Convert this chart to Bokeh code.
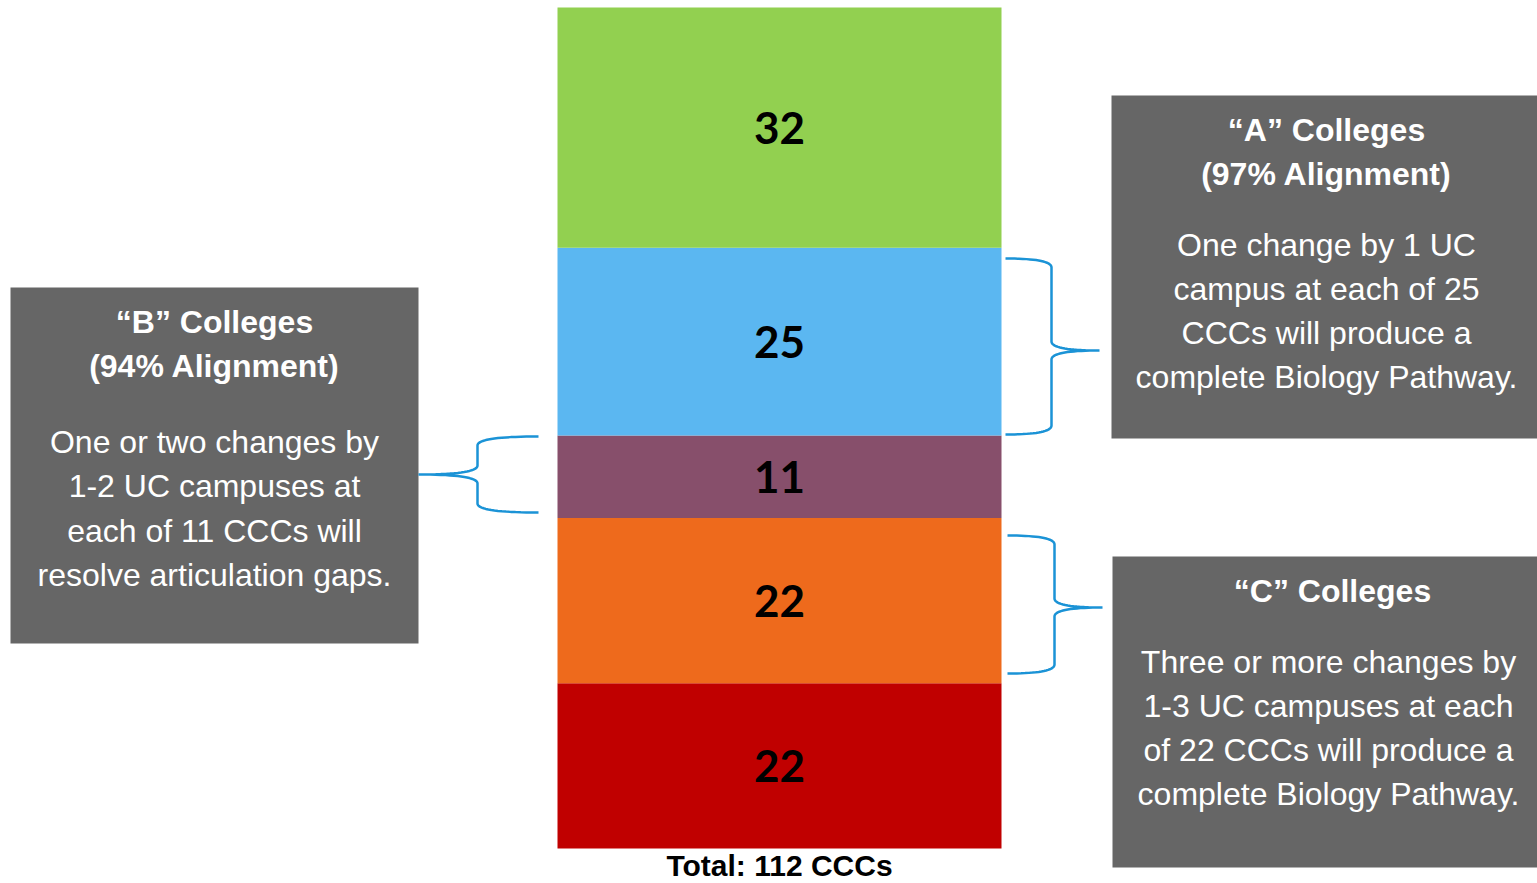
import numpy as np
from bokeh.plotting import figure
from bokeh.models import Range1d, ColumnDataSource
from bokeh.core.properties import value
from bokeh.embed import file_html
from bokeh.resources import INLINE

# ---- data ----
groups = ["Remaining C", "C", "B", "A", "Top"]
counts = [22, 22, 11, 25, 32]
colors = ["#C00000", "#EE6A1C", "#874F6B", "#5BB7F1", "#92D050"]
total_label = "Total: 112 CCCs"

box_a_title = ["\u201cA\u201d Colleges", "(97% Alignment)"]
box_a_body = ["One change by 1 UC", "campus at each of 25", "CCCs will produce a", "complete Biology Pathway."]
box_b_title = ["\u201cB\u201d Colleges", "(94% Alignment)"]
box_b_body = ["One or two changes by", "1-2 UC campuses at", "each of 11 CCCs will", "resolve articulation gaps."]
box_c_title = ["\u201cC\u201d Colleges"]
box_c_body = ["Three or more changes by", "1-3 UC campuses at each", "of 22 CCCs will produce a", "complete Biology Pathway."]

# ---- layout helpers (pixel layout -> value units) ----
W, H = 1537, 883
BASE = 848.0
PX = 841.0 / 112.0


def yv(py):
    return (BASE - py) / PX


p = figure(width=W, height=H, output_backend="svg", toolbar_location=None,
           x_range=Range1d(0, W), y_range=Range1d(yv(H), yv(0)),
           min_border=0, outline_line_color=None, background_fill_color="white",
           border_fill_color="white")
p.axis.visible = False
p.grid.visible = False

# stacked bar
tops = np.cumsum(counts)
bottoms = tops - np.array(counts)
src = ColumnDataSource(dict(g=groups, b=bottoms, t=tops, c=colors,
                            mid=(bottoms + tops) / 2.0, lab=[str(c) for c in counts]))
p.vbar(x=779, width=444, bottom="b", top="t", fill_color="c", line_color=None, source=src)
p.text(x=779, y="mid", text="lab", source=src, text_font=value("Lato"),
       text_font_size=value("44px"), text_font_style="bold", text_color="black",
       text_align="center", text_baseline="middle")

# total label
p.text(x=[779], y=[yv(865)], text=[total_label], text_font=value("Liberation Sans"),
       text_font_size=value("30px"), text_font_style="bold", text_color="black",
       text_align="center", text_baseline="middle")

# gray boxes
BOX = "#666666"
boxes = dict(l=[10, 1111, 1112], r=[418, 1545, 1545],
             t=[yv(287), yv(95), yv(556)], b=[yv(643), yv(438), yv(867)])
p.quad(left="l", right="r", top="t", bottom="b", source=ColumnDataSource(boxes),
       fill_color=BOX, line_color=None)


def lines(x, ys, txts, bold):
    p.text(x=[x] * len(txts), y=[yv(y) for y in ys], text=txts,
           text_font=value("Liberation Sans"), text_font_size=value("32px"),
           text_font_style="bold" if bold else "normal", text_color="white",
           text_align="center", text_baseline="middle")


lines(1326, [129, 173], box_a_title, True)
lines(1326, [244, 288, 332, 376], box_a_body, False)
lines(214, [321, 365], box_b_title, True)
lines(214, [441, 485, 530, 574], box_b_body, False)
lines(1332, [590], box_c_title, True)
lines(1328, [661, 705, 749, 793], box_c_body, False)


# curly braces
def quad_bez(p0, c, p1, n=20):
    t = np.linspace(0, 1, n)[:, None]
    p0, c, p1 = map(np.array, (p0, c, p1))
    return (1 - t) ** 2 * p0 + 2 * (1 - t) * t * c + t ** 2 * p1


def brace(x_tip, y_top, y_bot, x_mid, x_cusp, y_cusp, r=9):
    segs = [
        quad_bez((x_tip, y_top), (x_mid, y_top), (x_mid, y_top + r)),
        quad_bez((x_mid, y_top + r), (x_mid, y_cusp - r), (x_mid, y_cusp - r), 2),
        quad_bez((x_mid, y_cusp - r), (x_mid, y_cusp), (x_cusp, y_cusp)),
        quad_bez((x_cusp, y_cusp), (x_mid, y_cusp), (x_mid, y_cusp + r)),
        quad_bez((x_mid, y_cusp + r), (x_mid, y_bot - r), (x_mid, y_bot - r), 2),
        quad_bez((x_mid, y_bot - r), (x_mid, y_bot), (x_tip, y_bot)),
    ]
    pts = np.vstack(segs)
    p.line(pts[:, 0], [yv(v) for v in pts[:, 1]], line_color="#1B93D6", line_width=2.5)


brace(1005, 258, 434, 1051, 1099, 350)
brace(538, 436, 512, 477, 418, 474)
brace(1007, 535, 673, 1054, 1102, 607)

open("out.html", "w").write(file_html(p, INLINE))
